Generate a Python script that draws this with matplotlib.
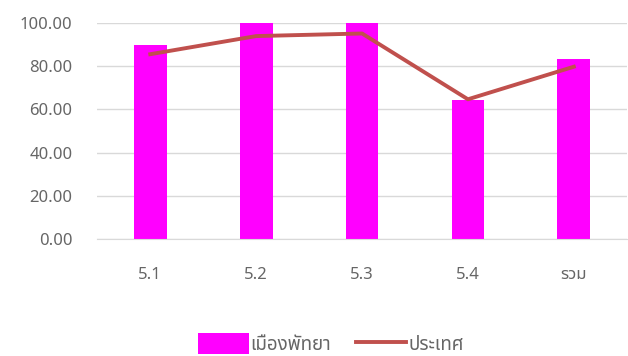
import matplotlib.pyplot as plt
from matplotlib import font_manager

# find a font that has Thai glyphs
thai_candidates = ['Noto Sans Thai', 'Noto Sans Thai UI', 'Tahoma', 'Leelawadee UI', 'Loma',
                   'Garuda', 'Norasi', 'Sarabun', 'TH Sarabun New', 'Kinnari', 'Waree']
names = set(f.name for f in font_manager.fontManager.ttflist)
thai = [n for n in thai_candidates if n in names]
plt.rcParams['font.family'] = thai + ['DejaVu Sans']

categories = ['5.1', '5.2', '5.3', '5.4', 'รวม']
pattaya = [89.8, 99.9, 99.9, 64.4, 83.2]
country = [85.6, 94.0, 95.2, 64.7, 79.8]

fig = plt.figure(figsize=(6.28, 3.56), dpi=100)
ax = fig.add_axes([0.155, 0.329, 0.843, 0.606])

x = list(range(len(categories)))
bars = ax.bar(x, pattaya, width=0.31, color='#FF00FF', label='เมืองพัทยา', zorder=2)
line, = ax.plot(x, country, color='#C0504D', linewidth=2.8, label='ประเทศ', zorder=3)

ax.set_xlim(-0.5, len(categories) - 0.5)
ax.set_ylim(0, 100)
ax.set_yticks([0, 20, 40, 60, 80, 100])
ax.set_yticklabels(['%.2f' % v for v in [0, 20, 40, 60, 80, 100]])
ax.set_xticks(x)
ax.set_xticklabels(categories)
ax.grid(axis='y', color='#D9D9D9', linewidth=1, zorder=0)
for s in ['top', 'right', 'left']:
    ax.spines[s].set_visible(False)
ax.spines['bottom'].set_color('#D9D9D9')
ax.tick_params(axis='both', length=0, labelsize=12, colors='#666666')
ax.tick_params(axis='y', pad=18)
ax.tick_params(axis='x', pad=20)

fig.legend([bars, line], ['เมืองพัทยา', 'ประเทศ'], loc='center',
           bbox_to_anchor=(0.527, 0.035), ncol=2, frameon=False,
           fontsize=13.5, labelcolor='#666666', handlelength=2.7, handleheight=1.3,
           handletextpad=0.1, columnspacing=1.3)

fig.savefig('out.png', dpi=100)
